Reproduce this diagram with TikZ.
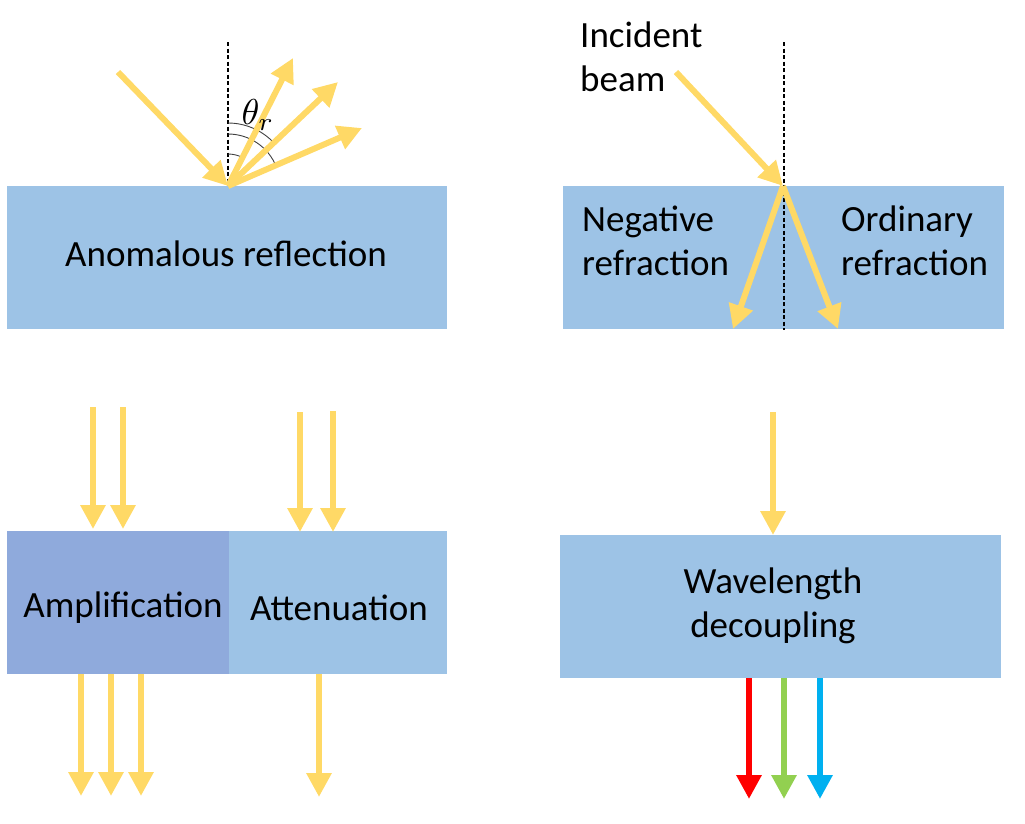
\documentclass[tikz,border=0pt]{standalone}
\usepackage{fontspec}
\usepackage{graphicx}
\setmainfont{Carlito}
\usetikzlibrary{arrows.meta}
\definecolor{boxblue}{HTML}{9DC3E6}
\definecolor{boxdark}{HTML}{8FAADC}
\definecolor{beam}{HTML}{FFD966}
\definecolor{rgreen}{HTML}{92D050}
\definecolor{rblue}{HTML}{00B0F0}
\tikzset{
  panel/.style={fill=#1, draw=none, inner sep=0pt, anchor=north west},
  beamarrow/.style={draw=#1, line width=6pt, -{Triangle[width=24pt,length=24pt]}},
  beamarrow/.default=beam,
  normal/.style={black, dash pattern=on 4pt off 2.5pt, line width=1.3pt},
  anglearc/.style={black!75, line width=0.9pt},
  lbl/.style={font=\fontsize{37}{44}\selectfont, align=center, inner sep=0pt}
}
\begin{document}
\begin{tikzpicture}[x=1pt,y=-1pt]
\useasboundingbox (0,0) rectangle (1025,823);
% boxes
\node[panel=boxblue, minimum width=440pt, minimum height=143pt] (b1) at (7,186) {};
\node[panel=boxblue, minimum width=441pt, minimum height=143pt] (b2) at (563,186) {};
\node[panel=boxdark, minimum width=222pt, minimum height=143pt] (b3a) at (7,531) {};
\node[panel=boxblue, minimum width=218pt, minimum height=143pt] (b3b) at (229,531) {};
\node[panel=boxblue, minimum width=441pt, minimum height=143pt] (b4) at (560,535) {};
% labels
\node[lbl] (t1) at (226,254) {Anomalous reflection};
\node[lbl, align=left, anchor=west] (t2a) at (582,241) {Negative\\refraction};
\node[lbl, align=left, anchor=west] (t2b) at (841,241) {Ordinary\\refraction};
\node[lbl] (t3a) at (123,608) {Amplification};
\node[lbl] (t3b) at (339,608) {Attenuation};
\node[lbl] (t4) at (773,606) {Wavelength\\decoupling};
\node[lbl, align=left, anchor=west] (tinc) at (580,57) {Incident\\beam};
% panel 1: anomalous reflection
\coordinate (o1) at (228,186);
\coordinate (n1) at (228,42);
\draw[normal] (n1) -- (o1);
\coordinate (i1) at (118,72);
\coordinate (r1) at (293,58);
\coordinate (r2) at (338,82);
\coordinate (r3) at (362,128);
\draw[anglearc] ([shift={(-90:32)}]o1) arc[start angle=-90, end angle=-62, radius=32];
\draw[anglearc] ([shift={(-90:63)}]o1) arc[start angle=-90, end angle=-43, radius=63];
\draw[anglearc] ([shift={(-90:52)}]o1) arc[start angle=-90, end angle=-22, radius=52];
\draw[beamarrow] (i1) -- (o1);
\draw[beamarrow] (o1) -- (r1);
\draw[beamarrow] (o1) -- (r2);
\draw[beamarrow] (o1) -- (r3);
\node[inner sep=0pt] (theta) at (258,115) {\scalebox{3.6}{$\theta_r$}};
% panel 2: refraction
\coordinate (o2) at (783,186);
\coordinate (n2t) at (784,42);
\coordinate (n2b) at (784,330);
\draw[normal] (n2t) -- (n2b);
\coordinate (i2) at (676,72);
\coordinate (nr) at (733,329);
\coordinate (orr) at (838,329);
\draw[beamarrow] (i2) -- (o2);
\draw[beamarrow] (o2) -- (nr);
\draw[beamarrow] (o2) -- (orr);
% panel 3
\coordinate (a1s) at (93,407); \coordinate (a1e) at (93,529);
\coordinate (a2s) at (123,407); \coordinate (a2e) at (123,529);
\coordinate (a3s) at (300,412); \coordinate (a3e) at (300,532);
\coordinate (a4s) at (333,411); \coordinate (a4e) at (333,532);
\draw[beamarrow] (a1s) -- (a1e);
\draw[beamarrow] (a2s) -- (a2e);
\draw[beamarrow] (a3s) -- (a3e);
\draw[beamarrow] (a4s) -- (a4e);
\coordinate (o31) at (81,796); \coordinate (o32) at (111,796); \coordinate (o33) at (141,796);
\coordinate (o34) at (319,797);
\draw[beamarrow] (b3a.south west -| o31) -- (o31);
\draw[beamarrow] (b3a.south west -| o32) -- (o32);
\draw[beamarrow] (b3a.south west -| o33) -- (o33);
\draw[beamarrow] (b3b.south west -| o34) -- (o34);
% panel 4
\coordinate (w1) at (773,412);
\draw[beamarrow] (w1) -- (b4.north west -| w1);
\coordinate (c1) at (749,799); \coordinate (c2) at (784,799); \coordinate (c3) at (820,799);
\draw[beamarrow=red] (b4.south west -| c1) -- (c1);
\draw[beamarrow=rgreen] (b4.south west -| c2) -- (c2);
\draw[beamarrow=rblue] (b4.south west -| c3) -- (c3);
\end{tikzpicture}
\end{document}
